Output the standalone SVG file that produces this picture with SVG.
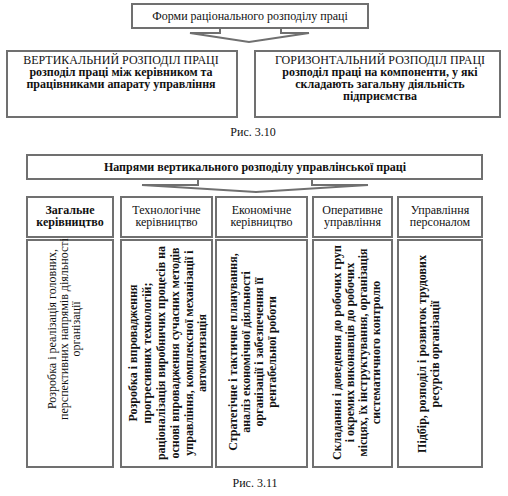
<svg xmlns="http://www.w3.org/2000/svg" width="508" height="496" viewBox="0 0 508 496">
<style>
.box{fill:#fff;stroke:#707070;stroke-width:2}
.arr{fill:#fff;stroke:#707070;stroke-width:2;stroke-linejoin:miter}
text{font-family:"Liberation Serif","Times New Roman",serif;font-size:12px;fill:#111}
.b{font-weight:bold}
.c{text-anchor:middle}
</style>
<rect width="508" height="496" fill="#fff"/>
<g id="connectors">
<path class="arr" d="M220,28 V33 H190 L249,42 L309,33 H281 V28"/>
<path class="arr" d="M198,179 V185 H142 L256,192 L368,185 H312 V179"/>
</g>
<g id="forms">
<rect class="box" x="132" y="4" width="236" height="24"/>
<text class="c" x="250" y="20">Форми раціонального розподілу праці</text>
</g>
<g id="vertical">
<rect class="box" x="7" y="51" width="230" height="66"/>
<text class="c" x="121" y="64">ВЕРТИКАЛЬНИЙ РОЗПОДІЛ ПРАЦІ</text>
<text class="c b" x="121" y="76">розподіл праці між керівником та</text>
<text class="c b" x="121" y="88">працівниками апарату управління</text>
</g>
<g id="horizontal">
<rect class="box" x="255" y="51" width="245" height="66"/>
<text class="c" x="380" y="64">ГОРИЗОНТАЛЬНИЙ РОЗПОДІЛ ПРАЦІ</text>
<text class="c b" x="380" y="76">розподіл праці на компоненти, у які</text>
<text class="c b" x="380" y="88">складають загальну діяльність</text>
<text class="c b" x="380" y="100">підприємства</text>
</g>
<text class="c" x="253" y="136">Рис. 3.10</text>
<g id="directions">
<rect class="box" x="27" y="155" width="455" height="24"/>
<text class="c b" x="255" y="171">Напрями вертикального розподілу управлінської праці</text>
</g>
<g id="general">
<rect class="box" x="27" y="197" width="86" height="40"/>
<text class="c b" x="70" y="214">Загальне</text>
<text class="c b" x="70" y="226">керівництво</text>
<rect class="box" x="27" y="240" width="86" height="227"/>
<g transform="rotate(-90)">
<text class="c" x="-329" y="56">Розробка і реалізація головних,</text>
<text class="c" x="-329" y="68">перспективних напрямів діяльності</text>
<text class="c" x="-329" y="80">організації</text>
</g>
</g>
<g id="technological">
<rect class="box" x="121" y="197" width="91" height="40"/>
<text class="c" x="166.5" y="214">Технологічне</text>
<text class="c" x="166.5" y="226">керівництво</text>
<rect class="box" x="121" y="240" width="91" height="227"/>
<g transform="rotate(-90)">
<text class="c b" x="-353" y="137">Розробка і впровадження</text>
<text class="c b" x="-353" y="151">прогресивних технологій;</text>
<text class="c b" x="-353" y="165">раціоналізація виробничих процесів на</text>
<text class="c b" x="-353" y="179">основі впровадження сучасних методів</text>
<text class="c b" x="-353" y="193">управління, комплексної механізації і</text>
<text class="c b" x="-353" y="206">автоматизація</text>
</g>
</g>
<g id="economic">
<rect class="box" x="216" y="197" width="91" height="40"/>
<text class="c" x="261.5" y="214">Економічне</text>
<text class="c" x="261.5" y="226">керівництво</text>
<rect class="box" x="216" y="240" width="91" height="227"/>
<g transform="rotate(-90)">
<text class="c b" x="-352" y="237">Стратегічне і тактичне планування,</text>
<text class="c b" x="-352" y="250">аналіз економічної діяльності</text>
<text class="c b" x="-352" y="263">організації і забезпечення її</text>
<text class="c b" x="-352" y="276">рентабельної роботи</text>
</g>
</g>
<g id="operational">
<rect class="box" x="313" y="197" width="79" height="40"/>
<text class="c" x="352.5" y="214">Оперативне</text>
<text class="c" x="352.5" y="226">управління</text>
<rect class="box" x="313" y="240" width="79" height="227"/>
<g transform="rotate(-90)">
<text class="c b" x="-352.5" y="341">Складання і доведення до робочих груп</text>
<text class="c b" x="-352.5" y="354">і окремих виконавців до робочих</text>
<text class="c b" x="-352.5" y="367">місцях, їх інструктування, організація</text>
<text class="c b" x="-352.5" y="380">систематичного контролю</text>
</g>
</g>
<g id="personnel">
<rect class="box" x="398" y="197" width="84" height="40"/>
<text class="c" x="440" y="214">Управління</text>
<text class="c" x="440" y="226">персоналом</text>
<rect class="box" x="398" y="240" width="84" height="227"/>
<g transform="rotate(-90)">
<text class="c b" x="-354" y="426">Підбір, розподіл і розвиток трудових</text>
<text class="c b" x="-354" y="439">ресурсів організації</text>
</g>
</g>
<text class="c" x="255" y="487">Рис. 3.11</text>
</svg>
